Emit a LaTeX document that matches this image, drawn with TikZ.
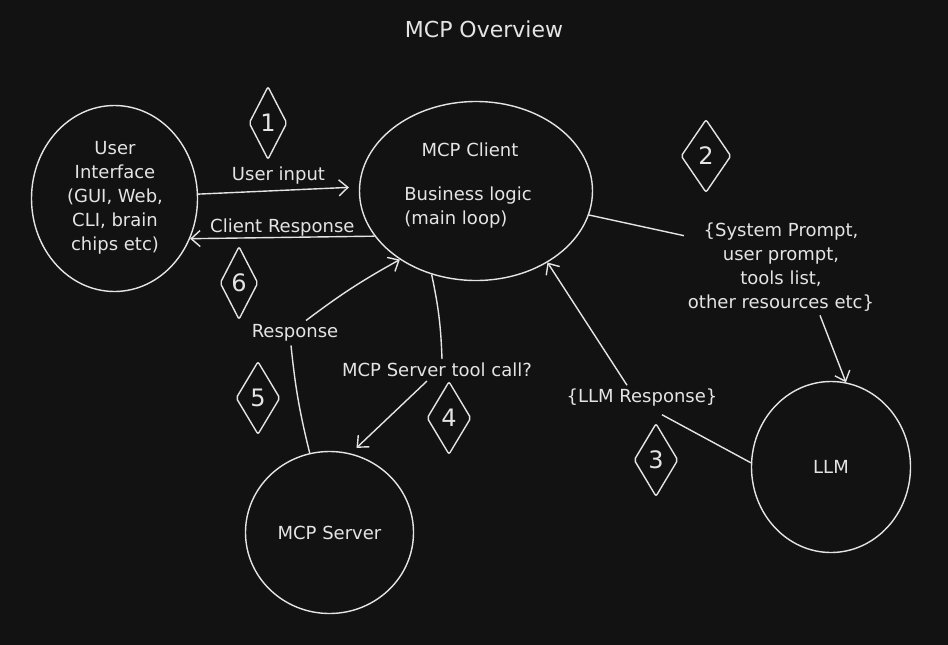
\documentclass[tikz,border=0pt]{standalone}
\usepackage{fontspec}
\setmainfont{DejaVu Sans}
\usetikzlibrary{arrows.meta,shapes.geometric}
\definecolor{bgc}{HTML}{121212}
\definecolor{ink}{HTML}{E4E4E4}

\begin{document}
\begin{tikzpicture}[x=1pt, y=-1pt, color=ink, line width=1.4pt,
  every node/.style={font=\fontsize{18}{24}\selectfont},
  blob/.style={ellipse, draw, inner sep=0pt},
  badge/.style={diamond, draw, rounded corners=2pt, inner sep=0pt, minimum width=44pt, minimum height=73pt, font=\fontsize{24}{24}\selectfont},
  txt/.style={align=center},
  arr/.style={-{Straight Barb[length=9pt,width=16pt]}}]
\fill[bgc] (0,0) rectangle (948,645);
\useasboundingbox (0,0) rectangle (948,645);

\node[font=\fontsize{22}{24}\selectfont] (title) at (484,29) {MCP Overview};

\node[blob, minimum width=166pt, minimum height=186pt] (ui) at (114.5,198.5) {};
\node[txt] (uitext) at (115,198) {User\\Interface\\(GUI, Web,\\CLI, brain\\chips etc)};

\node[blob, minimum width=233pt, minimum height=179pt] (client) at (476,191) {};
\node[] (clienttitle) at (470,150) {MCP Client};
\node[align=left] (clientbody) at (468,208) {Business logic\\(main loop)};

\node[blob, minimum width=159pt, minimum height=171pt] (llm) at (831,467) {LLM};
\node[blob, minimum width=168pt, minimum height=162pt] (server) at (329.5,532.5) {MCP Server};

\node[txt] (prompts) at (781,267) {\{System Prompt,\\user prompt,\\tools list,\\other resources etc\}};
\node[] (llmresp) at (642,398) {\{LLM Response\}};
\node[] (toolcall) at (437,370) {MCP Server tool call?};
\node[] (response) at (295,333) {Response};

\node[badge, minimum width=38pt] (b1) at (268,123) {1};
\node[badge, minimum width=50pt] (b2) at (706,156) {2};
\node[badge] (b3) at (656,460) {3};
\node[badge] (b4) at (449,418) {4};
\node[badge] (b5) at (258,398) {5};
\node[badge, minimum width=38pt] (b6) at (239,283) {6};

\draw[arr, shorten >=10pt] (ui.3) -- (client.178) node[midway, above=2pt] {User input};
\draw[arr] (client.-156) -- (ui.-28) node[midway, above=-3pt] {Client Response};

\draw[] (client.-12) -- ([xshift=0pt, yshift=-17pt]prompts.north west);
\draw[arr] ([xshift=39pt]prompts.south) -- (llm.80);

\draw[] (llm.177) -- ([xshift=20pt, yshift=-4pt]llmresp.south);
\draw[arr] ([xshift=-15pt]llmresp.north) -- (client.-45);

\draw[] (client.-118) to[bend left=5] ([xshift=5pt]toolcall.north);
\draw[arr, shorten >=8pt] ([xshift=-10pt]toolcall.south) -- (server.75);

\draw[] (server.104) to[bend left=4] ([xshift=-4pt]response.south);
\draw[arr] ([xshift=11pt]response.north) to[bend left=4] (client.-138);

\end{tikzpicture}
\end{document}
